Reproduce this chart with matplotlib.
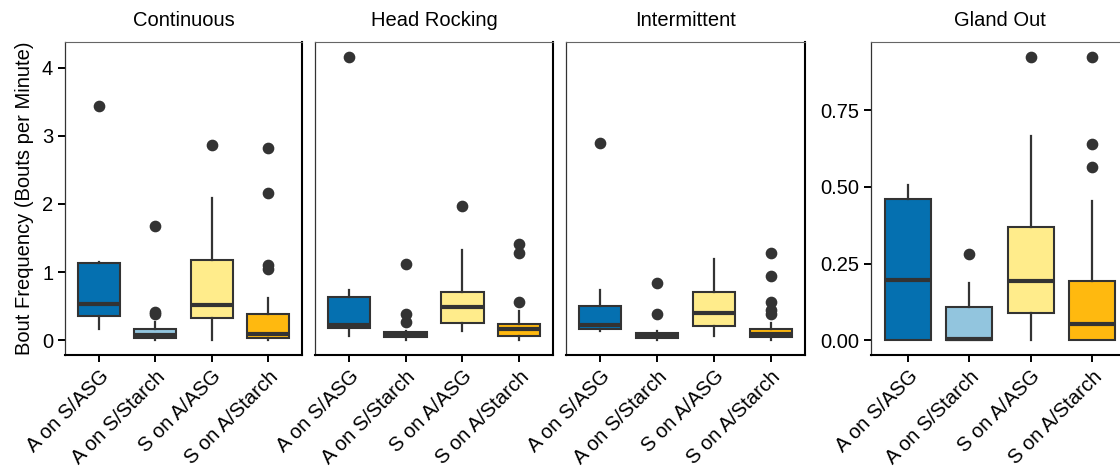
import matplotlib
matplotlib.use("Agg")
import matplotlib.pyplot as plt
import matplotlib.transforms as mtransforms

plt.rcParams['font.family'] = ['Liberation Sans', 'DejaVu Sans']

groups = ["A on S/ASG", "A on S/Starch", "S on A/ASG", "S on A/Starch"]
colors = ["#0570b0", "#92c5de", "#ffec8b", "#ffb90f"]
panels = ["Continuous", "Head Rocking", "Intermittent", "Gland Out"]

# box summaries per panel, one value per group
cont_whislo = [0.17, 0.01, 0.00, 0.00]
cont_q1 = [0.35, 0.04, 0.33, 0.04]
cont_med = [0.54, 0.08, 0.52, 0.09]
cont_q3 = [1.13, 0.16, 1.18, 0.39]
cont_whishi = [1.15, 0.27, 2.08, 0.62]
cont_fliers = [[3.44], [1.68, 0.42, 0.38], [2.87], [2.82, 2.16, 1.10, 1.04]]

head_whislo = [0.07, 0.01, 0.14, 0.01]
head_q1 = [0.175, 0.05, 0.26, 0.07]
head_med = [0.23, 0.08, 0.49, 0.16]
head_q3 = [0.64, 0.12, 0.71, 0.24]
head_whishi = [0.74, 0.13, 1.33, 0.43]
head_fliers = [[4.16], [1.12, 0.39, 0.27], [1.97], [1.42, 1.28, 0.56]]

inter_whislo = [0.14, 0.01, 0.06, 0.01]
inter_q1 = [0.17, 0.03, 0.21, 0.05]
inter_med = [0.22, 0.07, 0.40, 0.09]
inter_q3 = [0.50, 0.11, 0.71, 0.16]
inter_whishi = [0.74, 0.13, 1.20, 0.26]
inter_fliers = [[2.90], [0.84, 0.38], [], [1.28, 0.94, 0.56, 0.44, 0.39]]

gland_whislo = [0.0, 0.0, 0.0, 0.0]
gland_q1 = [0.0, 0.0, 0.088, 0.0]
gland_med = [0.198, 0.003, 0.195, 0.055]
gland_q3 = [0.46, 0.109, 0.37, 0.193]
gland_whishi = [0.505, 0.187, 0.665, 0.455]
gland_fliers = [[], [0.28], [0.925], [0.925, 0.64, 0.564]]

panel_data = [
    (cont_whislo, cont_q1, cont_med, cont_q3, cont_whishi, cont_fliers),
    (head_whislo, head_q1, head_med, head_q3, head_whishi, head_fliers),
    (inter_whislo, inter_q1, inter_med, inter_q3, inter_whishi, inter_fliers),
    (gland_whislo, gland_q1, gland_med, gland_q3, gland_whishi, gland_fliers),
]

W, H = 1120, 473
fig = plt.figure(figsize=(W / 100, H / 100), dpi=100)

# panel boxes in pixels: left, width
boxes_px = [(65, 237), (315, 238), (566, 239), (871, 258)]
top_px, bottom_px = 42.5, 354.5

ink = "#333333"
fs = 14.5
axes = []
for i, (lx, wx) in enumerate(boxes_px):
    ax = fig.add_axes([lx / W, (H - bottom_px) / H, wx / W, (bottom_px - top_px) / H])
    axes.append(ax)
    wlo, q1, med, q3, whi, fl = panel_data[i]
    stats = []
    for j in range(4):
        stats.append(dict(whislo=wlo[j], q1=q1[j], med=med[j], q3=q3[j],
                          whishi=whi[j], fliers=fl[j]))
    bp = ax.bxp(stats, positions=[1, 2, 3, 4], widths=0.75, patch_artist=True,
                showcaps=False,
                boxprops=dict(edgecolor=ink, linewidth=1.5),
                whiskerprops=dict(color=ink, linewidth=1.6),
                medianprops=dict(color=ink, linewidth=3.0, solid_capstyle='butt'),
                flierprops=dict(marker='o', markerfacecolor=ink, markeredgecolor=ink,
                                markersize=7.4, linestyle='none'))
    for patch, c in zip(bp['boxes'], colors):
        patch.set_facecolor(c)

    ax.set_xlim(0.4, 4.6)
    ax.set_xticks([1, 2, 3, 4])
    ax.set_xticklabels(groups, rotation=45, ha='right', va='top',
                       rotation_mode='anchor', fontsize=fs)
    shift = mtransforms.ScaledTranslation(7 / 100, 4 / 100, fig.dpi_scale_trans)
    for lab in ax.get_xticklabels():
        lab.set_transform(lab.get_transform() + shift)
    ax.set_title(panels[i], fontsize=fs, pad=12)
    ax.tick_params(axis='both', direction='out', length=5, width=1.4,
                   color='black', labelcolor='black', labelsize=fs)
    ax.tick_params(axis='x', pad=4)

    ax.spines['top'].set_color('#666666')
    ax.spines['top'].set_linewidth(0.8)
    ax.spines['left'].set_color('#333333')
    ax.spines['left'].set_linewidth(0.9)
    ax.spines['right'].set_color('black')
    ax.spines['right'].set_linewidth(1.5)
    ax.spines['bottom'].set_color('black')
    ax.spines['bottom'].set_linewidth(1.5)

for ax in axes[:3]:
    ax.set_ylim(-0.208, 4.368)
for ax in axes[1:3]:
    ax.set_yticks([])
axes[0].set_yticks([0, 1, 2, 3, 4])
axes[0].set_ylabel("Bout Frequency (Bouts per Minute)", fontsize=fs, labelpad=6)

axes[3].set_ylim(-0.046, 0.971)
axes[3].set_yticks([0, 0.25, 0.5, 0.75])
axes[3].set_yticklabels(["0.00", "0.25", "0.50", "0.75"])

fig.savefig("out.png", dpi=100)
